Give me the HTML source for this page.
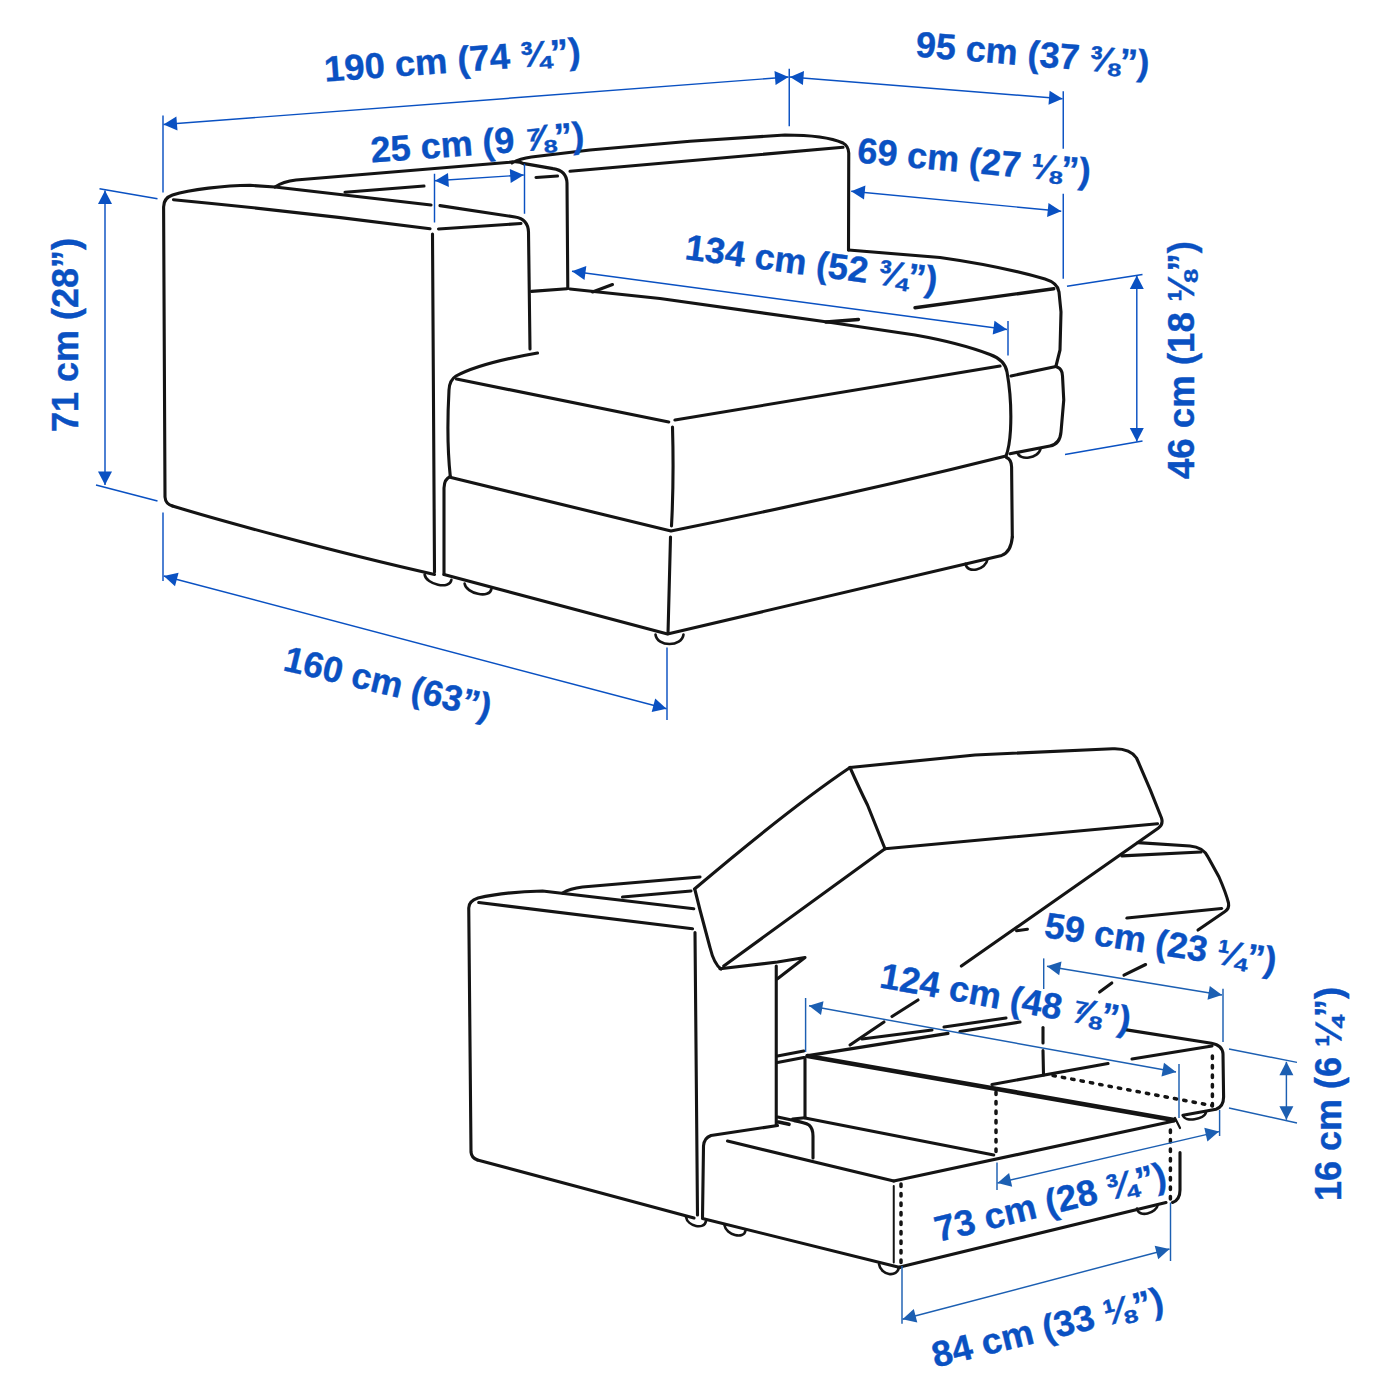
<!DOCTYPE html>
<html><head><meta charset="utf-8"><title>Sofa dimensions</title>
<style>
html,body{margin:0;padding:0;background:#fff;}
svg{display:block;}
text{font-family:"Liberation Sans",sans-serif;font-weight:bold;fill:#0a51c2;stroke:#0a51c2;stroke-width:0.4px;white-space:pre;}
</style></head><body>
<svg width="1400" height="1400" viewBox="0 0 1400 1400">
<rect width="1400" height="1400" fill="#fff"/>
<g fill="none" stroke="#141414" stroke-linecap="round" stroke-linejoin="round">
<path d="M172.5,506 Q165.5,504 165,497 L163.6,207 Q163.6,198 172.5,195 C190,189.5 225,185.5 250,185.3 L275,187 L431,205" stroke-width="3.1" />
<path d="M173.5,199.7 Q300,211.8 430,228.7" stroke-width="3.1" />
<path d="M432.5,234 L434.5,572" stroke-width="3.1" />
<path d="M172.5,506 C215,519 330,551 434.5,574.5" stroke-width="3.1" />
<path d="M440,205.6 L515,217 Q528,219 528.5,232 L530,349" stroke-width="3.1" />
<path d="M438.5,229 L521,223.5" stroke-width="3.1" />
<path d="M275,187 Q283,181.5 296,180 L510,162.2 Q518,160.5 524,163.8 M512,163 Q520,158.5 531.5,157 L590,150 L690,141.3 L785,135 Q825,135 843,143 Q848.5,146 848.75,153 L848.5,250" stroke-width="3.1" />
<path d="M345,192.2 L424,186" stroke-width="3.1" />
<path d="M570,171.25 L843,147.3" stroke-width="3.1" />
<path d="M524.3,163.6 L553,168.6 Q566.5,170.5 567,183 L567.8,288.4" stroke-width="3.1" />
<path d="M536,177.5 L557.5,176" stroke-width="3.1" />
<path d="M531.5,291.4 L567,288.7" stroke-width="3.1" />
<path d="M570,289 L660,298.5 L831,322.5 L915,335 Q960,343 990,354.5 Q1005,360 1007,372 Q1012,400 1010.5,430 Q1009.5,447 1006,456" stroke-width="3.1" />
<path d="M592.5,292 L612.5,284.5" stroke-width="3.1" />
<path d="M537.5,353 Q480,363 456,376 Q449.5,380 449,390 Q446.3,440 450.3,476.5" stroke-width="3.1" />
<path d="M456.5,379 L668.75,422" stroke-width="3.1" />
<path d="M675,420 L1000,366" stroke-width="3.1" />
<path d="M672.5,427 Q674,480 671.5,526" stroke-width="3.1" />
<path d="M451,477.5 L671,531 Q850,495 1006,456" stroke-width="3.1" />
<path d="M450.3,476.5 Q444.3,479 444,488 L444,574.5" stroke-width="3.1" />
<path d="M670.5,537 L668,633.75" stroke-width="3.1" />
<path d="M444,574.5 L667.5,634 L1001.7,555.4 Q1011,552 1012.3,537" stroke-width="3.1" />
<path d="M1006.5,457.5 Q1011.4,459.5 1011.6,467 L1012.3,537" stroke-width="3.1" />
<path d="M848.5,250 L940,257.5 Q1000,266 1045,279 Q1058,283 1059,292 L1061,312 L1060,350 L1056,366" stroke-width="3.1" />
<path d="M915,307.8 L1053.75,288.75" stroke-width="3.4" />
<path d="M826,322 L858.5,319.5" stroke-width="3.4" />
<path d="M1011,376 L1056,366.5" stroke-width="3.1" />
<path d="M1057,367 Q1062.5,369 1062.5,376 L1063.75,400 L1061,432 Q1060,444 1050,446 L1010,453.75" stroke-width="3.1" />
<path d="M424.6,574.5 C426.1,584.5 449.9,589.9 451.4,579.9" stroke-width="2.6" />
<path d="M464.6,583.6 C466.1,593.6 489.9,599.0 491.4,589.0" stroke-width="2.6" />
<path d="M655.5,634.5 C657.0,647.1 682.0,647.1 683.5,634.5" stroke-width="2.6" />
<path d="M965.5,563.7 C967.0,574.3 986.0,569.9 987.5,559.3" stroke-width="2.6" />
<path d="M1017.5,452.2 C1019.0,461.5 1039.0,458.1 1040.5,448.8" stroke-width="2.6" />
<path d="M477.5,1160 Q471.5,1158 471,1152 L468.75,908 Q468.75,901 478,898 C495,894 520,891.5 542.5,891 L693.75,908.75" stroke-width="3.1" />
<path d="M478.75,902.5 L692.5,928.75" stroke-width="3.1" />
<path d="M695,932.5 L697.5,1215" stroke-width="3.1" />
<path d="M477.5,1160 C540,1177 640,1203 694,1218" stroke-width="3.1" />
<path d="M562.5,893 Q570,888.5 582.5,887 L700,877" stroke-width="3.1" />
<path d="M622.5,897 L691,891" stroke-width="3.1" />
<path d="M694.5,889 Q790,808 850,767.5" stroke-width="3.1" />
<path d="M695,890 L700,910 L710,947.5 Q714,964 721,969" stroke-width="3.1" />
<path d="M723.75,966 L885,848.75" stroke-width="3.1" />
<path d="M850,767.5 L975,755 L1112.5,748.75 Q1130,748 1136.5,758 Q1150,788 1161.5,818 Q1163.5,824.5 1158.5,828 L961.4,966" stroke-width="3.1" />
<path d="M850,767.5 Q860,790 867.5,805 L885,848.75" stroke-width="3.1" />
<path d="M885,848.75 L1157.5,823.75" stroke-width="3.1" />
<path d="M1016.6,930.7 L1027.4,929.2" stroke-width="3.1" />
<path d="M918,1000 L892,1016.5" stroke-width="3.1" />
<path d="M884,1022 L850,1045" stroke-width="3.1" />
<path d="M720,968.75 L777.5,962 L805,957.5 L777.5,978.75" stroke-width="3.1" />
<path d="M1138,842.6 L1190,846 Q1203,847 1208,857 L1219,877 Q1226,893 1228.5,903 Q1229.5,908.5 1225,911.5 L1198,930" stroke-width="3.1" />
<path d="M1122,855.8 L1201,852" stroke-width="3.2" />
<path d="M1127,918 L1221.5,908.5" stroke-width="3.2" />
<path d="M1145.6,964.5 L1124,975.2" stroke-width="3.1" />
<path d="M1111.8,983 L1099.6,992" stroke-width="3.1" />
<path d="M776.25,966 L776.25,1125" stroke-width="3.1" />
<path d="M805,1057.5 L805,1117.5" stroke-width="3.1" />
<path d="M777.5,1056 L803.75,1051" stroke-width="3.1" />
<path d="M777.5,1062.5 L803.75,1057.5" stroke-width="3.1" />
<path d="M807.5,1056 L995.5,1088.7" stroke-width="4.6" />
<path d="M808,1055.6 L948,1033.4" stroke-width="3.1" />
<path d="M960,1031.5 L1020,1022" stroke-width="3.1" />
<path d="M862,1039 L932,1030" stroke-width="3.1" />
<path d="M944,1027 L1006,1018" stroke-width="3.1" />
<path d="M1043,1027.5 L1043,1043" stroke-width="3.1" />
<path d="M1043,1050.5 L1043.5,1075" stroke-width="3.1" />
<path d="M992,1084.5 L1108,1063.5" stroke-width="3.1" />
<path d="M1132,1059 L1212,1046" stroke-width="3.1" />
<path d="M1125,1029.6 L1211.5,1043.2 Q1222.5,1045 1223,1054 L1223.6,1097 Q1223.6,1106.5 1216,1109.3 L1183,1115.3" stroke-width="3.1" />
<path d="M1212.4,1056 L1212.4,1106" stroke-width="3.5" stroke-dasharray="2.4 7.1" stroke-linecap="round"/>
<path d="M1053,1075.6 L1212,1105.6" stroke-width="3.5" stroke-dasharray="2.4 7.1" stroke-linecap="round"/>
<path d="M997,1089 L1174,1120" stroke-width="4.6" />
<path d="M996,1092 L996,1155" stroke-width="3.5" stroke-dasharray="2.4 7.1" stroke-linecap="round"/>
<path d="M1175,1118 L1180,1128" stroke-width="2.2" />
<path d="M1170.4,1130 L1170.4,1200" stroke-width="3.5" stroke-dasharray="2.4 7.1" stroke-linecap="round"/>
<path d="M1180,1152.5 L1180,1190 Q1180,1200 1172.5,1202.5" stroke-width="3.1" />
<path d="M900,1267 L1166,1202.5" stroke-width="3.1" />
<path d="M1137.0,1208.6 C1138.5,1217.9 1156.5,1213.7 1158.0,1204.4" stroke-width="2.6" />
<path d="M1183.0,1115.3 C1184.5,1122.6 1204.5,1119.6 1206.0,1112.3" stroke-width="2.6" />
<path d="M792.6,1119 L805,1117.7" stroke-width="3.1" />
<path d="M777.7,1117 L794,1120.6 Q805,1122.5 809,1125 Q813,1128.5 813,1136 L813,1158" stroke-width="3.1" />
<path d="M805,1118 L993.75,1155" stroke-width="3.1" />
<path d="M778.5,1122 L789,1124.3" stroke-width="3.6" />
<path d="M702.5,1217.5 L703.5,1146 Q704,1138 711,1135.5 L777.5,1125.5" stroke-width="3.1" />
<path d="M727.5,1141 L893.75,1181" stroke-width="3.1" />
<path d="M893.75,1181 L1174,1121" stroke-width="3.1" />
<path d="M893.75,1186 L893.75,1262.5" stroke-width="2.0" />
<path d="M901,1184 L901,1264" stroke-width="3.5" stroke-dasharray="2.4 7.1" stroke-linecap="round"/>
<path d="M702.5,1218.5 L900,1267.5" stroke-width="3.1" />
<path d="M686.0,1217.0 C687.5,1226.3 704.5,1230.3 706.0,1221.0" stroke-width="2.6" />
<path d="M724.5,1225.4 C726.0,1234.7 744.0,1239.9 745.5,1230.6" stroke-width="2.6" />
<path d="M879.0,1264.0 C880.5,1275.3 897.5,1278.3 899.0,1267.0" stroke-width="2.6" />
</g>
<g stroke="#0a51c2" stroke-linecap="butt">
<path d="M163,115.5 L163,192.5" stroke-width="1.45" fill="none"/>
<path d="M789.25,68.75 L789.25,126.25" stroke-width="1.45" fill="none"/>
<path d="M163.5,124.5 L788.5,77" stroke-width="1.45" fill="none"/>
<path d="M788.5,77.0 L775.6,85.0 L774.5,71.0 Z" fill="#0a51c2" stroke="none"/>
<path d="M163.5,124.5 L176.4,116.5 L177.5,130.5 Z" fill="#0a51c2" stroke="none"/>
<path d="M790,77 L1062.5,98.75" stroke-width="1.45" fill="none"/>
<path d="M1062.5,98.8 L1048.5,104.7 L1049.6,90.7 Z" fill="#0a51c2" stroke="none"/>
<path d="M790.0,77.0 L804.0,71.1 L802.9,85.1 Z" fill="#0a51c2" stroke="none"/>
<path d="M1063.25,91.25 L1063.25,148.75" stroke-width="1.45" fill="none"/>
<path d="M1063.25,193.75 L1063.25,278.75" stroke-width="1.45" fill="none"/>
<path d="M434.5,173.75 L434.5,222.5" stroke-width="1.45" fill="none"/>
<path d="M524.5,163.75 L524.5,213.75" stroke-width="1.45" fill="none"/>
<path d="M435,180.75 L523.75,175" stroke-width="1.45" fill="none"/>
<path d="M523.8,175.0 L510.7,182.9 L509.8,168.9 Z" fill="#0a51c2" stroke="none"/>
<path d="M435.0,180.8 L448.0,172.9 L448.9,186.9 Z" fill="#0a51c2" stroke="none"/>
<path d="M851.25,191.25 L1061.25,211.25" stroke-width="1.45" fill="none"/>
<path d="M1061.2,211.2 L1047.1,216.9 L1048.5,203.0 Z" fill="#0a51c2" stroke="none"/>
<path d="M851.2,191.2 L865.4,185.6 L864.0,199.5 Z" fill="#0a51c2" stroke="none"/>
<path d="M572,271.25 L1007,329.5" stroke-width="1.45" fill="none"/>
<path d="M1007.0,329.5 L992.7,334.6 L994.5,320.8 Z" fill="#0a51c2" stroke="none"/>
<path d="M572.0,271.2 L586.3,266.1 L584.5,280.0 Z" fill="#0a51c2" stroke="none"/>
<path d="M1008,321 L1008,355.5" stroke-width="1.45" fill="none"/>
<path d="M105,190.5 L105,485" stroke-width="1.45" fill="none"/>
<path d="M105.0,485.0 L98.0,471.5 L112.0,471.5 Z" fill="#0a51c2" stroke="none"/>
<path d="M105.0,190.5 L112.0,204.0 L98.0,204.0 Z" fill="#0a51c2" stroke="none"/>
<path d="M99.5,188.75 L157.5,198.75" stroke-width="1.45" fill="none"/>
<path d="M96,485 L157.5,501" stroke-width="1.45" fill="none"/>
<path d="M1136.8,275.5 L1136.8,441.5" stroke-width="1.45" fill="none"/>
<path d="M1136.8,441.5 L1129.8,428.0 L1143.8,428.0 Z" fill="#0a51c2" stroke="none"/>
<path d="M1136.8,275.5 L1143.8,289.0 L1129.8,289.0 Z" fill="#0a51c2" stroke="none"/>
<path d="M1067,286.25 L1142.5,274.5" stroke-width="1.45" fill="none"/>
<path d="M1065,454.5 L1142.5,441" stroke-width="1.45" fill="none"/>
<path d="M163.75,576 L666.5,708.75" stroke-width="1.45" fill="none"/>
<path d="M666.5,708.8 L651.7,712.1 L655.2,698.5 Z" fill="#0a51c2" stroke="none"/>
<path d="M163.8,576.0 L178.6,572.7 L175.0,586.2 Z" fill="#0a51c2" stroke="none"/>
<path d="M163,512.5 L163,581" stroke-width="1.45" fill="none"/>
<path d="M667,647.5 L667,720" stroke-width="1.45" fill="none"/>
</g><g stroke="#1c5fb2" stroke-linecap="butt">
<path d="M805.6,998 L805.6,1052" stroke-width="1.45" fill="none"/>
<path d="M809,1005.8 L1176,1072" stroke-width="1.45" fill="none"/>
<path d="M1176.0,1072.0 L1161.5,1076.5 L1164.0,1062.7 Z" fill="#1c5fb2" stroke="none"/>
<path d="M809.0,1005.8 L823.5,1001.3 L821.0,1015.1 Z" fill="#1c5fb2" stroke="none"/>
<path d="M1179,1064 L1179,1118" stroke-width="1.45" fill="none"/>
<path d="M1043.7,958.4 L1043.7,989" stroke-width="1.45" fill="none"/>
<path d="M1047,966.25 L1222,995" stroke-width="1.45" fill="none"/>
<path d="M1222.0,995.0 L1207.5,999.7 L1209.8,985.9 Z" fill="#1c5fb2" stroke="none"/>
<path d="M1047.0,966.2 L1061.5,961.5 L1059.2,975.3 Z" fill="#1c5fb2" stroke="none"/>
<path d="M1223,988.75 L1223,1042" stroke-width="1.45" fill="none"/>
<path d="M1286.4,1061.8 L1286.4,1119.8" stroke-width="1.45" fill="none"/>
<path d="M1286.4,1119.8 L1279.4,1106.3 L1293.4,1106.3 Z" fill="#1c5fb2" stroke="none"/>
<path d="M1286.4,1061.8 L1293.4,1075.3 L1279.4,1075.3 Z" fill="#1c5fb2" stroke="none"/>
<path d="M1229,1049 L1297,1062.4" stroke-width="1.45" fill="none"/>
<path d="M1229,1108 L1297,1123" stroke-width="1.45" fill="none"/>
<path d="M997.5,1183 L1219,1131.6" stroke-width="1.45" fill="none"/>
<path d="M1219.0,1131.6 L1207.4,1141.5 L1204.3,1127.8 Z" fill="#1c5fb2" stroke="none"/>
<path d="M997.5,1183.0 L1009.1,1173.1 L1012.2,1186.8 Z" fill="#1c5fb2" stroke="none"/>
<path d="M997,1162.5 L997,1190" stroke-width="1.45" fill="none"/>
<path d="M1219.6,1110 L1219.6,1136" stroke-width="1.45" fill="none"/>
<path d="M902.5,1319.3 L1169.5,1249" stroke-width="1.45" fill="none"/>
<path d="M1169.5,1249.0 L1158.2,1259.2 L1154.7,1245.7 Z" fill="#1c5fb2" stroke="none"/>
<path d="M902.5,1319.3 L913.8,1309.1 L917.3,1322.6 Z" fill="#1c5fb2" stroke="none"/>
<path d="M902,1266 L902,1323.75" stroke-width="1.45" fill="none"/>
<path d="M1170.5,1202.5 L1170.5,1261" stroke-width="1.45" fill="none"/>
</g>
<g>
<text x="325" y="81.8" transform="rotate(-4.2 325 81.8)" font-size="36" textLength="257" lengthAdjust="spacingAndGlyphs">190 cm (74 ¾”)</text>
<text x="371.5" y="162.6" transform="rotate(-4.2 371.5 162.6)" font-size="36">25 cm (9 ⅞”)</text>
<text x="915" y="56.5" transform="rotate(4.7 915 56.5)" font-size="36">95 cm (37 ⅜”)</text>
<text x="856.5" y="162.5" transform="rotate(5.2 856.5 162.5)" font-size="36">69 cm (27 ⅛”)</text>
<text x="684" y="259" transform="rotate(7.45 684 259)" font-size="36">134 cm (52 ¾”)</text>
<text x="77.5" y="432" transform="rotate(-90 77.5 432)" font-size="36">71 cm (28”)</text>
<text x="1194" y="479" transform="rotate(-90 1194 479)" font-size="36" textLength="238" lengthAdjust="spacingAndGlyphs">46 cm (18 ⅛”)</text>
<text x="282" y="670" transform="rotate(13.4 282 670)" font-size="36" textLength="212" lengthAdjust="spacingAndGlyphs">160 cm (63”)</text>
<text x="1043.3" y="937" transform="rotate(8.8 1043.3 937)" font-size="36">59 cm (23 ¼”)</text>
<text x="878.5" y="987.2" transform="rotate(10.2 878.5 987.2)" font-size="36">124 cm (48 ⅞”)</text>
<text x="1341" y="1201" transform="rotate(-90 1341 1201)" font-size="36">16 cm (6 ¼”)</text>
<text x="938" y="1241.9" transform="rotate(-13.6 938 1241.9)" font-size="36" textLength="237" lengthAdjust="spacingAndGlyphs">73 cm (28 ¾”)</text>
<text x="935.3" y="1367.7" transform="rotate(-13.8 935.3 1367.7)" font-size="36" textLength="237" lengthAdjust="spacingAndGlyphs">84 cm (33 ⅛”)</text>
</g>
</svg>
</body></html>
